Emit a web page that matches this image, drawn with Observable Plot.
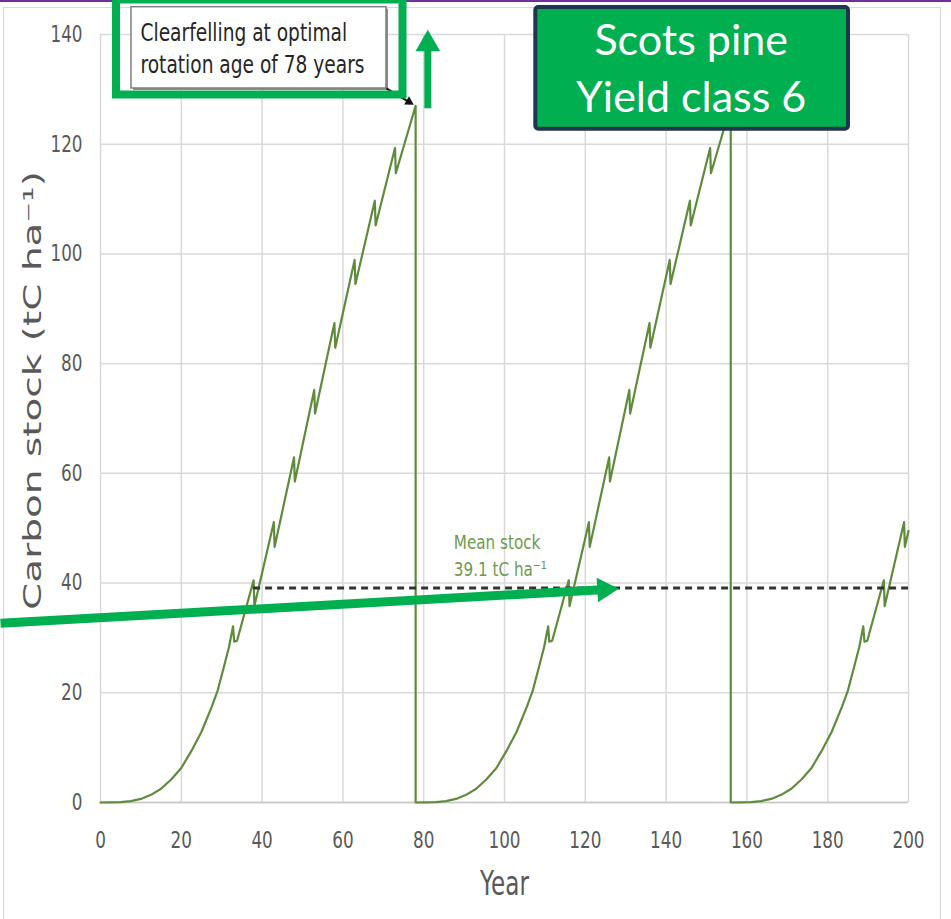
<!DOCTYPE html>
<html><head><meta charset="utf-8">
<script src="https://cdn.jsdelivr.net/npm/d3@7"></script>
<script src="https://cdn.jsdelivr.net/npm/@observablehq/plot@0.6"></script>
<style>
html,body{margin:0;padding:0;background:#fff;}
#wrap{position:relative;width:951px;height:919px;overflow:hidden;}
#topline{position:absolute;left:0;top:0;width:951px;height:1.5px;background:#7030a0;}
#frame{position:absolute;left:3px;top:7px;width:938px;height:940px;border:1.5px solid #d9d9d9;box-sizing:border-box;}
#chart{position:absolute;left:0;top:0;}
</style></head><body>
<div id="wrap"><div id="topline"></div><div id="frame"></div><div id="chart"></div></div>
<script>
// ---- Data: carbon stock series (three rotations, clearfell at 78 and 156) ----
const years = [
  0, 2.5, 5, 7.5, 10, 12.5, 15, 17.5, 20, 22.5, 25, 27.5, 29, 30.5, 31.8, 32.8, 33.1, 33.8, 37.9, 38.1,
  42.9, 43.1, 47.9, 48.1, 52.9, 53.1, 57.9, 58.1, 62.9, 63.1, 67.9, 68.1, 72.9, 73.1, 78,
  78, 80.5, 83, 85.5, 88, 90.5, 93, 95.5, 98, 100.5, 103, 105.5, 107, 108.5, 109.8, 110.8, 111.1, 111.8, 115.9, 116.1,
  120.9, 121.1, 125.9, 126.1, 130.9, 131.1, 135.9, 136.1, 140.9, 141.1, 145.9, 146.1, 150.9, 151.1, 156,
  156, 158.5, 161, 163.5, 166, 168.5, 171, 173.5, 176, 178.5, 181, 183.5, 185, 186.5, 187.8, 188.8, 189.1, 189.8, 193.9, 194.1,
  198.9, 199.1, 200
];
const carbon = [
  0, 0.02, 0.07, 0.25, 0.65, 1.4, 2.5, 4.2, 6.3, 9.4, 12.9, 17.4, 20.4, 24.6, 28.3, 32.1, 29.3, 29.5, 40.5, 35.8,
  51.1, 46.6, 62.9, 58.5, 75.2, 70.9, 87.4, 82.9, 98.9, 94.5, 109.7, 105.2, 119.3, 114.7, 127.0,
  0, 0.02, 0.07, 0.25, 0.65, 1.4, 2.5, 4.2, 6.3, 9.4, 12.9, 17.4, 20.4, 24.6, 28.3, 32.1, 29.3, 29.5, 40.5, 35.8,
  51.1, 46.6, 62.9, 58.5, 75.2, 70.9, 87.4, 82.9, 98.9, 94.5, 109.7, 105.2, 119.3, 114.7, 127.0,
  0, 0.02, 0.07, 0.25, 0.65, 1.4, 2.5, 4.2, 6.3, 9.4, 12.9, 17.4, 20.4, 24.6, 28.3, 32.1, 29.3, 29.5, 40.5, 35.8,
  51.1, 46.6, 49.5
];
const xTicks = [0, 20, 40, 60, 80, 100, 120, 140, 160, 180, 200];
const yTicks = [0, 20, 40, 60, 80, 100, 120, 140];
const xTitle = ["Year"];
const yTitle = ["Carbon stock (tC ha\u207B\u00B9)"];

// mean stock line
const meanStock = [39.1];
const meanRange = [37.9, 200];
const meanLines = ["Mean stock", "39.1 tC ha\u207B\u00B9"];
const meanLineY = [46.25, 41.38];
const meanLabelX = [87.45];

// annotations (in data units: year, tC/ha)
const calloutLines = ["Clearfelling at optimal", "rotation age of 78 years"];
const calloutLineY = [138.9, 132.9];
const calloutX = [9.9];
const calloutBox = [7.67, 70.79, 130.16, 144.98];      // x1, x2, y1, y2
const calloutShadow = [8.17, 71.29, 129.8, 144.6];
const calloutPointer = [70.79, 130.16, 76.49, 127.62];  // x1, y1, x2, y2
const calloutHead = [76.36, 127.73, 120.6];             // x, y, rotate
const highlightBox = [3.96, 74.88, 128.97, 146.29];
const speciesLines = ["Scots pine", "Yield class 6"];
const speciesLineY = [136.2, 125.8];
const speciesX = [146.2];
const speciesBox = [107.75, 185.15, 122.74, 144.92];
const upArrow = [81.02, 126.46, 137.08];                 // x, y1, y2
const upHead = [81.02, 138.25, 0];
const longArrow = [-24.75, 32.67, 125.2, 38.83];
const longHead = [124.75, 38.81, 86.8];

// ---- tables built from arrays ----
const series = years.map((y, i) => ({year: y, carbon: carbon[i]}));
const meanText = meanLines.map((t, i) => ({t, y: meanLineY[i]}));
const calloutText = calloutLines.map((t, i) => ({t, y: calloutLineY[i]}));
const speciesText = speciesLines.map((t, i) => ({t, y: speciesLineY[i]}));
const green = "#00b050";

const plot = Plot.plot({
  width: 951, height: 919,
  marginLeft: 100, marginRight: 43, marginTop: 34, marginBottom: 117,
  x: {domain: [0, 200]},
  y: {domain: [0, 140]},
  style: {fontFamily: "DejaVu Sans", background: "transparent", overflow: "visible"},
  marks: [
    Plot.gridX(xTicks, {stroke: "#d9d9d9", strokeOpacity: 1, strokeWidth: 1.5}),
    Plot.gridY(yTicks, {stroke: "#d9d9d9", strokeOpacity: 1, strokeWidth: 1.5}),
    Plot.ruleY([0], {stroke: "#c8c8c8", strokeWidth: 1.5}),
    Plot.axisX(xTicks, {tickSize: 0, tickPadding: 29, fontSize: 23, fill: "#595959", label: null}),
    Plot.axisY(yTicks, {tickSize: 0, tickPadding: 18, fontSize: 23, fill: "#595959", label: null}),
    Plot.text(xTitle, {text: d => d, frameAnchor: "bottom", dy: 92, lineAnchor: "bottom", fontSize: 34, fill: "#595959"}),
    Plot.text(yTitle, {text: d => d, frameAnchor: "left", dx: -67, dy: -28, rotate: -90, textAnchor: "middle", lineAnchor: "middle", fontSize: 39, fill: "#595959"}),
    Plot.line(series, {x: "year", y: "carbon", stroke: "#5e8c3c", strokeWidth: 2.2}),
    Plot.ruleY(meanStock, {x1: meanRange[0], x2: meanRange[1], stroke: "#333333", strokeWidth: 3, strokeDasharray: "7,5"}),
    Plot.text(meanText, {x: meanLabelX[0], y: "y", text: "t", textAnchor: "start", lineAnchor: "bottom", fontSize: 20, fill: "#6f9b4f"}),
    // callout box
    Plot.rect([0], {x1: calloutShadow[0], x2: calloutShadow[1], y1: calloutShadow[2], y2: calloutShadow[3], fill: "#8c8c8c"}),
    Plot.rect([0], {x1: calloutBox[0], x2: calloutBox[1], y1: calloutBox[2], y2: calloutBox[3], fill: "white", stroke: "#7f7f7f", strokeWidth: 1.5}),
    Plot.text(calloutText, {x: calloutX[0], y: "y", text: "t", textAnchor: "start", lineAnchor: "bottom", fontSize: 24, fill: "#262626"}),
    Plot.link([0], {x1: calloutPointer[0], y1: calloutPointer[1], x2: calloutPointer[2], y2: calloutPointer[3], stroke: "#111", strokeWidth: 2}),
    Plot.dot([calloutHead], {x: d => d[0], y: d => d[1], rotate: d => d[2], symbol: "triangle", r: 3.6, fill: "#111", stroke: null}),
    Plot.rect([0], {x1: highlightBox[0], x2: highlightBox[1], y1: highlightBox[2], y2: highlightBox[3], fill: "none", stroke: green, strokeWidth: 8}),
    // species box
    Plot.rect([0], {x1: speciesBox[0], x2: speciesBox[1], y1: speciesBox[2], y2: speciesBox[3], fill: green, stroke: "#1f3651", strokeWidth: 4, rx: 3}),
    Plot.text(speciesText, {x: speciesX[0], y: "y", text: "t", textAnchor: "middle", lineAnchor: "bottom", fontSize: 43, fontFamily: "Lato", fill: "white"}),
    // arrows
    Plot.ruleX([upArrow[0]], {y1: upArrow[1], y2: upArrow[2], stroke: green, strokeWidth: 7}),
    Plot.dot([upHead], {x: d => d[0], y: d => d[1], rotate: d => d[2], symbol: "triangle", r: 9.2, fill: green, stroke: null}),
    Plot.link([0], {x1: longArrow[0], y1: longArrow[1], x2: longArrow[2], y2: longArrow[3], stroke: green, strokeWidth: 9}),
    Plot.dot([longHead], {x: d => d[0], y: d => d[1], rotate: d => d[2], symbol: "triangle", r: 9.2, fill: green, stroke: null})
  ]
});
document.getElementById("chart").append(plot);

// horizontal compression of the chart's text, as in the reference
const factors = {"23px": 0.73, "34px": 0.68, "24px": 0.775, "20px": 0.76};
plot.querySelectorAll("text").forEach(t => {
  const fs = getComputedStyle(t).fontSize;
  if (fs === "39px") {
    // rotated y title: compress glyph height (screen x direction), keep its length
    const tr = t.getAttribute("transform") || "";
    t.setAttribute("transform", tr + " scale(1,0.64)");
    return;
  }
  const f = factors[fs];
  if (!f) return;
  const n = t.getComputedTextLength();
  const L = n * f;
  const anchor = getComputedStyle(t).textAnchor;
  const x0 = +(t.getAttribute("x") || 0);
  const shift = anchor === "middle" ? -L / 2 : anchor === "end" ? -L : 0;
  t.style.textAnchor = "start";
  t.setAttribute("x", x0 + shift);
  t.setAttribute("textLength", L);
  t.setAttribute("lengthAdjust", "spacingAndGlyphs");
});
</script>
</body></html>
